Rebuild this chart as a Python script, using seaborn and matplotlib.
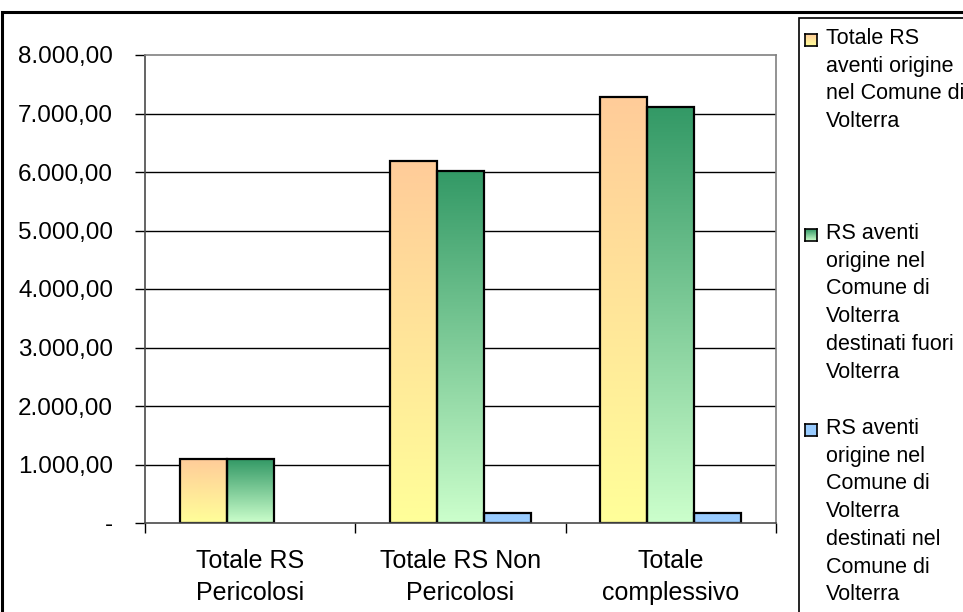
import numpy as np
import pandas as pd
import matplotlib
matplotlib.use("Agg")
import matplotlib.pyplot as plt
from matplotlib.colors import LinearSegmentedColormap
from matplotlib.patches import Rectangle
from matplotlib.ticker import FixedLocator, FixedFormatter
import seaborn as sns

# --- data -------------------------------------------------------------
categories = ["Totale RS\nPericolosi", "Totale RS Non\nPericolosi", "Totale\ncomplessivo"]
series = [
    "Totale RS\naventi origine\nnel Comune di\nVolterra",
    "RS aventi\norigine nel\nComune di\nVolterra\ndestinati fuori\nVolterra",
    "RS aventi\norigine nel\nComune di\nVolterra\ndestinati nel\nComune di\nVolterra",
]
totale_origine = [1094, 6188, 7282]
destinati_fuori = [1094, 6017, 7111]
destinati_nel = [0, 171, 171]
ytick_values = [0, 1000, 2000, 3000, 4000, 5000, 6000, 7000, 8000]
ytick_labels = ["-", "1.000,00", "2.000,00", "3.000,00", "4.000,00",
                "5.000,00", "6.000,00", "7.000,00", "8.000,00"]

# gradient colours (bottom, top) for each series
gradients = [("#FFFF99", "#FFCC99"), ("#CCFFCC", "#339966"), ("#99CCFF", "#99CCFF")]

df = pd.DataFrame({
    "categoria": categories * 3,
    "serie": [series[0]] * 3 + [series[1]] * 3 + [series[2]] * 3,
    "valore": totale_origine + destinati_fuori + destinati_nel,
})

# --- figure -----------------------------------------------------------
sns.set_theme(style="white")
plt.rcParams["font.family"] = ["Liberation Sans", "DejaVu Sans"]

W, H = 963, 612
fig = plt.figure(figsize=(W / 100, H / 100), dpi=100)
fig.patch.set_facecolor("white")

def fx(px):
    return px / W

def fy(py):
    return 1 - py / H

ax = fig.add_axes([fx(145), fy(523), fx(776) - fx(145), fy(55) - fy(523)])

sns.barplot(data=df, x="categoria", y="valore", hue="serie",
            hue_order=series, palette=[g[0] for g in gradients],
            width=0.67, edgecolor="black", linewidth=1.6,
            legend=False, ax=ax, zorder=2)

# vertical gradient fill inside each bar
n_cat = len(categories)
for i, p in enumerate(ax.patches):
    s = i // n_cat
    h = p.get_height()
    if h <= 0:
        p.set_visible(False)
        continue
    bottom, top = gradients[s]
    cmap = LinearSegmentedColormap.from_list(f"g{s}", [bottom, top])
    x0, y0, w = p.get_x(), p.get_y(), p.get_width()
    im = ax.imshow(np.linspace(0, 1, 256).reshape(-1, 1), cmap=cmap,
                   extent=[x0, x0 + w, y0, y0 + h], origin="lower",
                   aspect="auto", zorder=1.5)
    im.set_clip_path(p)
    p.set_facecolor("none")

ax.set_xlim(-0.5, 2.5)
ax.set_ylim(0, 8000)
ax.set_xlabel("")
ax.set_ylabel("")

# horizontal grid
for v in ytick_values[1:-1]:
    ax.axhline(v, color="black", linewidth=1.0, zorder=0.5)

for side in ["top", "right"]:
    ax.spines[side].set_color("#808080")
    ax.spines[side].set_linewidth(1.2)
for side in ["left", "bottom"]:
    ax.spines[side].set_color("#4a4a4a")
    ax.spines[side].set_linewidth(1.2)

ax.yaxis.set_major_locator(FixedLocator(ytick_values))
ax.yaxis.set_major_formatter(FixedFormatter(ytick_labels))
ax.tick_params(axis="y", left=True, length=7, width=1, color="black",
               labelsize=17.5, pad=16, labelcolor="black")

ax.set_xticks(range(n_cat))
ax.set_xticklabels(categories, fontsize=18, linespacing=1.42)
ax.set_xticks([-0.5, 0.5, 1.5, 2.5], minor=True)
ax.tick_params(axis="x", which="major", length=0, pad=19, labelcolor="black")
ax.tick_params(axis="x", which="minor", bottom=True, length=7, width=1,
               color="black")

# outer chart frame
fig.add_artist(Rectangle((fx(2), fy(700)), fx(1100), fy(12) - fy(700),
                         transform=fig.transFigure, fill=False,
                         edgecolor="black", linewidth=2.2))

# legend box with entries
fig.add_artist(Rectangle((fx(799), fy(700)), fx(400), fy(18) - fy(700),
                         transform=fig.transFigure, fill=False,
                         edgecolor="black", linewidth=1.2))

entry_tops = [28, 223, 418]
for s, (label, top) in enumerate(zip(series, entry_tops)):
    bottom, topc = gradients[s]
    lax = fig.add_axes([fx(805), fy(top + 18), fx(12), fy(top + 6) - fy(top + 18)])
    lax.imshow(np.linspace(0, 1, 64).reshape(-1, 1),
               cmap=LinearSegmentedColormap.from_list(f"l{s}", [bottom, topc]),
               origin="lower", aspect="auto", extent=[0, 1, 0, 1])
    lax.set_xticks([])
    lax.set_yticks([])
    for sp in lax.spines.values():
        sp.set_color("black")
        sp.set_linewidth(1.2)
    fig.text(fx(826), fy(top), label, fontsize=15.5, va="top", ha="left",
             linespacing=1.42, color="black")

fig.savefig("out.png", dpi=100)
